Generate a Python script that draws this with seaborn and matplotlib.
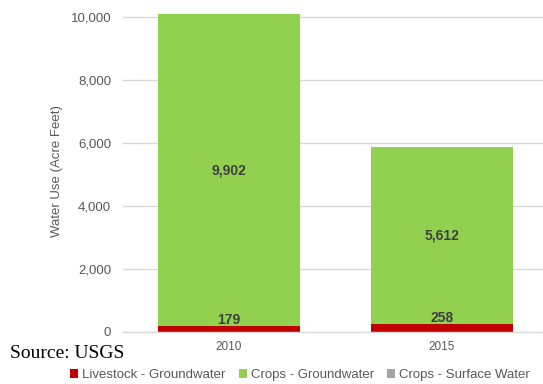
import matplotlib
matplotlib.use("Agg")
import matplotlib.pyplot as plt
from matplotlib.patches import Patch
import seaborn as sns
import pandas as pd

years = ["2010", "2015"]
livestock_gw = [179, 258]
crops_gw = [9902, 5612]
crops_sw = [0, 0]
series_names = ["Livestock - Groundwater", "Crops - Groundwater", "Crops - Surface Water"]
series_colors = ["#C00000", "#92D050", "#A5A5A5"]
y_ticks = [0, 2000, 4000, 6000, 8000, 10000]

df = pd.DataFrame({"year": years, "livestock": livestock_gw,
                   "crops": crops_gw, "surface": crops_sw})
df["crops_top"] = df["livestock"] + df["crops"]
df["surface_top"] = df["crops_top"] + df["surface"]

sns.set_theme(style="white")
plt.rcParams["font.family"] = ["Liberation Sans", "DejaVu Sans"]

fig = plt.figure(figsize=(5.43, 3.84), dpi=100)
ax = fig.add_axes([123 / 543, (384 - 332) / 384, 1 - 123 / 543, (332 - 10.7) / 384])

bar_w = 0.667
# stacked layers: draw cumulative totals back to front
sns.barplot(data=df, x="year", y="surface_top", color=series_colors[2],
            width=bar_w, saturation=1, ax=ax, linewidth=0)
sns.barplot(data=df, x="year", y="crops_top", color=series_colors[1],
            width=bar_w, saturation=1, ax=ax, linewidth=0)
sns.barplot(data=df, x="year", y="livestock", color=series_colors[0],
            width=bar_w, saturation=1, ax=ax, linewidth=0)

ax.set_xlim(-0.4977, 1.474)
ax.set_ylim(0, 10200)
ax.set_yticks(y_ticks)
ax.set_yticklabels([f"{v:,}" for v in y_ticks])
ax.yaxis.grid(True, color="#D9D9D9", linewidth=1)
ax.set_axisbelow(True)
for side in ["top", "right", "left"]:
    ax.spines[side].set_visible(False)
ax.spines["bottom"].set_color("#D9D9D9")
ax.spines["bottom"].set_linewidth(1)
ax.tick_params(axis="y", length=0, pad=8.5, labelsize=9.5, labelcolor="#595959")
ax.tick_params(axis="x", length=0, pad=6.5, labelsize=8.5, labelcolor="#595959")
ax.set_xlabel("")
ax.set_ylabel("Water Use (Acre Feet)", fontsize=9.5, color="#595959")
ax.yaxis.set_label_coords(-0.142, 0.5)

# value labels
for i, (lv, cr) in enumerate(zip(livestock_gw, crops_gw)):
    ax.annotate(f"{lv:,}", (i, lv), xytext=(0, 4.5), textcoords="offset points",
                ha="center", va="center", fontsize=10, fontweight="bold",
                color="#404040")
    ax.text(i, lv + cr / 2, f"{cr:,}", ha="center", va="center",
            fontsize=10, fontweight="bold", color="#404040")

handles = [Patch(facecolor=c, edgecolor="none") for c in series_colors]
fig.legend(handles, series_names, loc="center", bbox_to_anchor=(300 / 543, 1 - 375 / 384),
           ncol=3, frameon=False, fontsize=9.5, labelcolor="#595959",
           handlelength=0.6, handleheight=0.6, handletextpad=0.3, columnspacing=1.0)

fig.text(10 / 543, 1 - 353 / 384, "Source: USGS", family="Liberation Serif",
         fontsize=14, color="black", ha="left", va="center")

fig.savefig("out.png", dpi=100)
